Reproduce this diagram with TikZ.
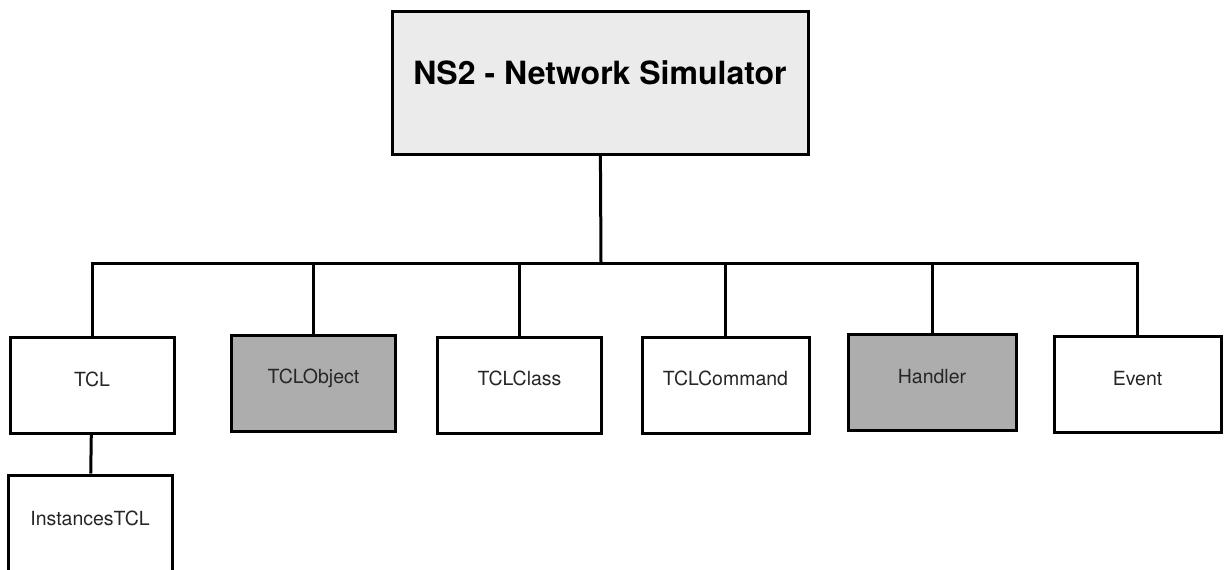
\documentclass[tikz,border=0pt]{standalone}
\usepackage{fontspec}
\setmainfont{TeX Gyre Heros}
\usepackage{tikz}
\usetikzlibrary{positioning}
\definecolor{rootfill}{HTML}{EBEBEB}
\definecolor{darkfill}{HTML}{ADADAD}
\tikzset{
  rootbox/.style={
    rectangle, draw=black, fill=rootfill, line width=3pt,
    minimum width=416pt, minimum height=143pt,
    text height=23pt, text depth=19pt,
    font=\fontsize{32}{36}\selectfont\bfseries
  },
  classbox/.style={
    rectangle, draw=black, fill=white, line width=3pt,
    minimum width=164pt, minimum height=96pt,
    text height=14pt, text depth=13pt,
    font=\fontsize{19.5}{22}\selectfont, text=black!85
  },
  shaded/.style={fill=darkfill},
  link/.style={line width=3pt, color=black}
}
\begin{document}
\begin{tikzpicture}[x=1pt, y=-1pt]
  \useasboundingbox (0,0) rectangle (1226,570);

  % Nodos
  \node[rootbox] (ns2) at (600,82.5) {NS2 - Network Simulator};

  \node[classbox] (tcl) at (92,385.5) {TCL};
  \node[classbox, shaded] (tclobject) at (313.5,383) {TCLObject};
  \node[classbox] (tclclass) at (519.5,385) {TCLClass};
  \node[classbox, minimum width=167pt] (tclcommand) at (725.5,385) {TCLCommand};
  \node[classbox, shaded, minimum width=168pt] (handler) at (932,382.5) {Handler};
  \node[classbox, minimum width=167pt] (event) at (1137.5,384.5) {Event};

  \node[classbox, minimum height=100pt] (instances) at (90,525) {InstancesTCL};

  \coordinate (bus) at (601,263);

  % Conexiones
  \draw[link] (ns2) -- (bus);
  \draw[link] (bus) -| (tcl);
  \draw[link] (bus) -| (tclobject);
  \draw[link] (bus) -| (tclclass);
  \draw[link] (bus) -| (tclcommand);
  \draw[link] (bus) -| (handler);
  \draw[link] (bus) -| (event);
  \draw[link] (tcl) -- (instances);

\end{tikzpicture}
\end{document}
